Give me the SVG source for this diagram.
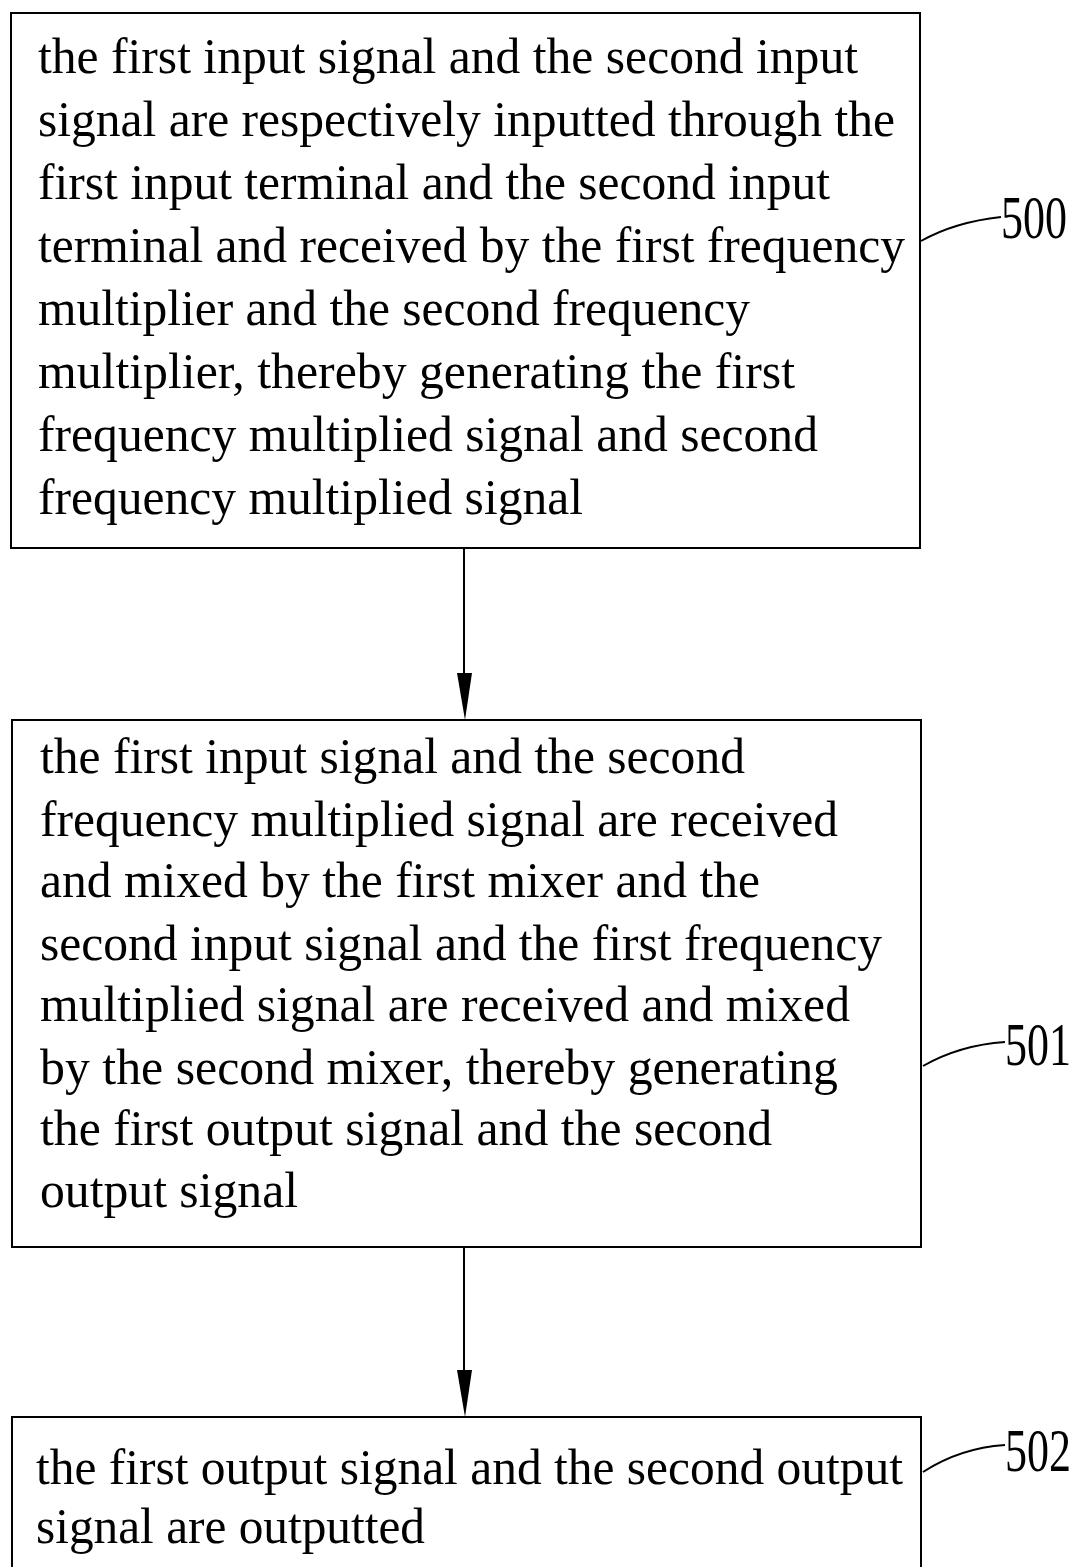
<svg xmlns="http://www.w3.org/2000/svg" width="1078" height="1567" viewBox="0 0 1078 1567">
<style>
.box{fill:#fff;stroke:#000;stroke-width:2}
.t{font-family:"Liberation Serif","Times New Roman",serif;font-size:50px;fill:#000}
.lbl{font-family:"Liberation Serif","Times New Roman",serif;font-size:44px;fill:#000}
.lead{fill:none;stroke:#000;stroke-width:2}
.conn{stroke:#000;stroke-width:2}
.head{fill:#000}
</style>
<rect width="1078" height="1567" fill="#fff"/>
<g id="connectors">
<line class="conn" x1="464" y1="548" x2="464" y2="676"/>
<path class="head" d="M457,673 L472,673 L465,720 Z"/>
<line class="conn" x1="464" y1="1247" x2="464" y2="1373"/>
<path class="head" d="M457,1370 L472,1370 L465,1417 Z"/>
</g>
<g id="node500">
<rect class="box" x="11" y="13" width="909" height="535"/>
<text class="t" x="38" y="73" textLength="820" lengthAdjust="spacingAndGlyphs">the first input signal and the second input</text>
<text class="t" x="38" y="136" textLength="857" lengthAdjust="spacingAndGlyphs">signal are respectively inputted through the</text>
<text class="t" x="38" y="199" textLength="792" lengthAdjust="spacingAndGlyphs">first input terminal and the second input</text>
<text class="t" x="38" y="262" textLength="867" lengthAdjust="spacingAndGlyphs">terminal and received by the first frequency</text>
<text class="t" x="38" y="325" textLength="712" lengthAdjust="spacingAndGlyphs">multiplier and the second frequency</text>
<text class="t" x="38" y="388" textLength="757" lengthAdjust="spacingAndGlyphs">multiplier, thereby generating the first</text>
<text class="t" x="38" y="451" textLength="780" lengthAdjust="spacingAndGlyphs">frequency multiplied signal and second</text>
<text class="t" x="38" y="514" textLength="545" lengthAdjust="spacingAndGlyphs">frequency multiplied signal</text>
<path class="lead" d="M921,241 Q955,222 1001,217"/>
<text class="lbl" transform="translate(1001,238) scale(1,1.38)">500</text>
</g>
<g id="node501">
<rect class="box" x="12" y="720" width="909" height="527"/>
<text class="t" x="40" y="773" textLength="705" lengthAdjust="spacingAndGlyphs">the first input signal and the second</text>
<text class="t" x="40" y="836" textLength="798" lengthAdjust="spacingAndGlyphs">frequency multiplied signal are received</text>
<text class="t" x="40" y="897" textLength="720" lengthAdjust="spacingAndGlyphs">and mixed by the first mixer and the</text>
<text class="t" x="40" y="960" textLength="842" lengthAdjust="spacingAndGlyphs">second input signal and the first frequency</text>
<text class="t" x="40" y="1021" textLength="810" lengthAdjust="spacingAndGlyphs">multiplied signal are received and mixed</text>
<text class="t" x="40" y="1084" textLength="798" lengthAdjust="spacingAndGlyphs">by the second mixer, thereby generating</text>
<text class="t" x="40" y="1145" textLength="732" lengthAdjust="spacingAndGlyphs">the first output signal and the second</text>
<text class="t" x="40" y="1207" textLength="258" lengthAdjust="spacingAndGlyphs">output signal</text>
<path class="lead" d="M923,1066 Q960,1045 1005,1042"/>
<text class="lbl" transform="translate(1005,1065) scale(1,1.38)">501</text>
</g>
<g id="node502">
<rect class="box" x="12" y="1417" width="909" height="200"/>
<text class="t" x="36" y="1484" textLength="867" lengthAdjust="spacingAndGlyphs">the first output signal and the second output</text>
<text class="t" x="36" y="1543" textLength="389" lengthAdjust="spacingAndGlyphs">signal are outputted</text>
<path class="lead" d="M923,1472 Q960,1448 1005,1445"/>
<text class="lbl" transform="translate(1005,1471) scale(1,1.38)">502</text>
</g>
</svg>
